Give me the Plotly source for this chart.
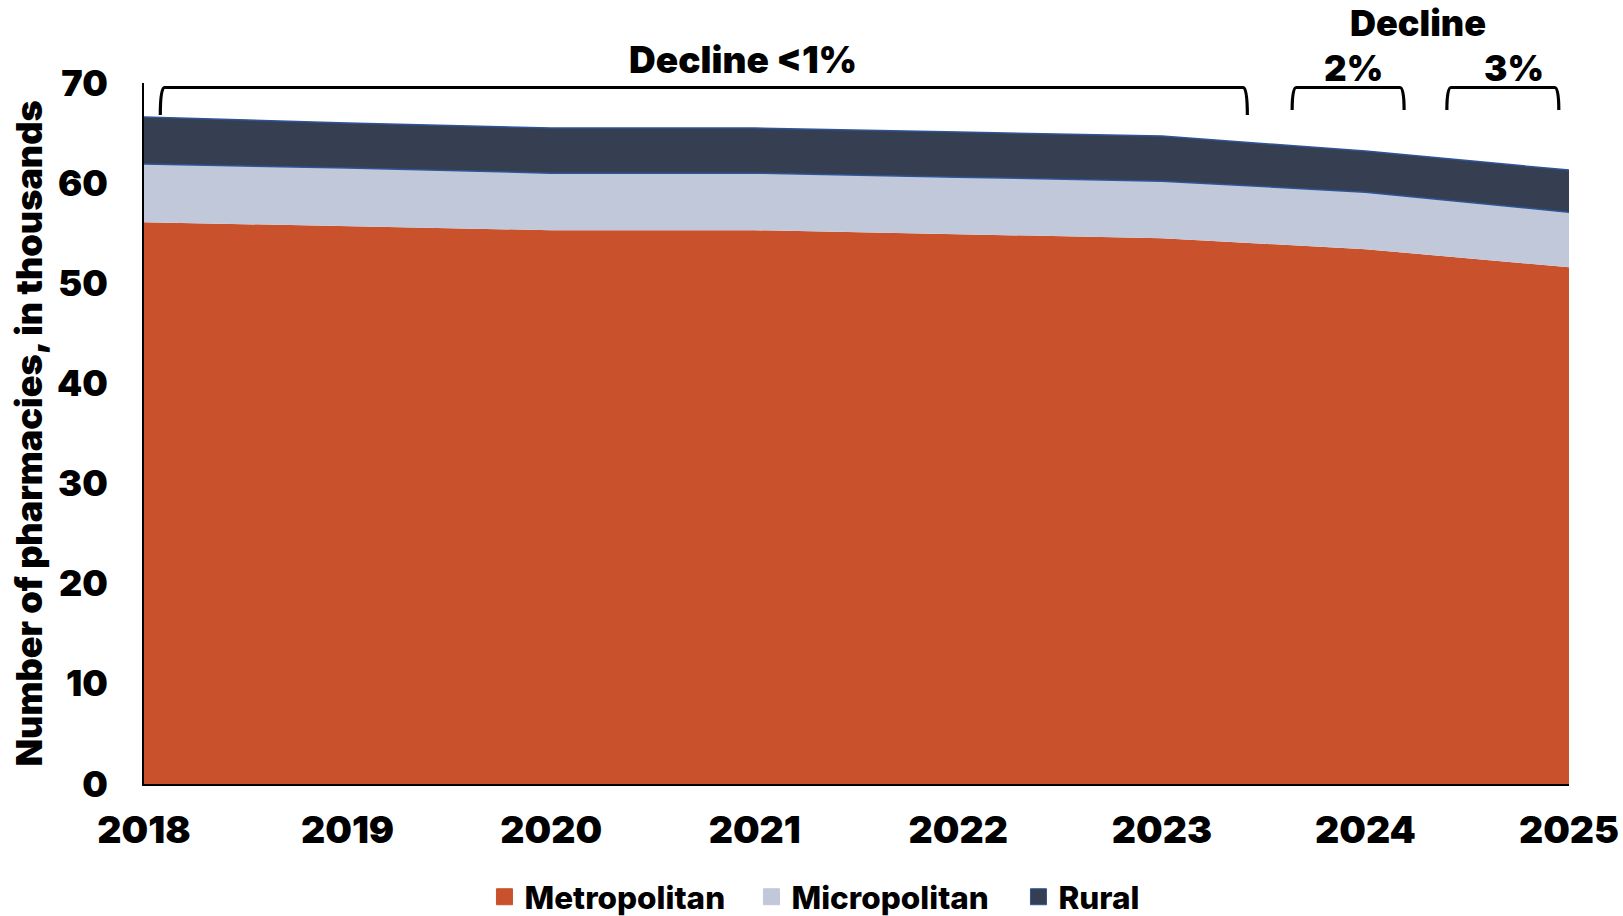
import plotly.graph_objects as go

years = [2018, 2019, 2020, 2021, 2022, 2023, 2024, 2025]
metropolitan = [56.1, 55.7, 55.3, 55.3, 54.9, 54.5, 53.4, 51.6]
micropolitan = [5.8, 5.8, 5.7, 5.7, 5.7, 5.7, 5.7, 5.5]
rural = [4.7, 4.5, 4.5, 4.5, 4.5, 4.5, 4.1, 4.2]

series_names = ["Metropolitan", "Micropolitan", "Rural"]
fill_colors = ["#C9512C", "#C1C8DA", "#353F51"]
line_colors = ["#C9512C", "#2F5597", "#2F5597"]
line_widths = [0, 1.5, 1.5]

y_ticks = [0, 10, 20, 30, 40, 50, 60, 70]

FONT = "Inter, Lato, sans-serif"

fig = go.Figure()
for name, vals, fc, lc, lw in zip(series_names, [metropolitan, micropolitan, rural],
                                  fill_colors, line_colors, line_widths):
    fig.add_trace(go.Scatter(
        x=years, y=vals, name=name, mode="lines", stackgroup="one",
        fillcolor=fc, line=dict(color=lc, width=lw), showlegend=False,
    ))

# legend swatches (square markers, no data)
swatch_lines = ["#C9512C", "#C1C8DA", "#2F5597"]
for name, fc, lc in zip(series_names, fill_colors, swatch_lines):
    fig.add_trace(go.Scatter(
        x=[None], y=[None], name=name, mode="markers",
        marker=dict(symbol="square", size=16, color=fc, line=dict(color=lc, width=1)),
    ))

# brackets (x in data years, y in data units)
brackets = [(2018.08, 2023.42, 66.8), (2023.64, 2024.19, 67.3), (2024.40, 2024.95, 67.3)]
top = 69.55
dx = 0.02
for x0, x1, yb in brackets:
    path = (f"M {x0},{yb} Q {x0},{top} {x0+dx},{top} L {x1-dx},{top} "
            f"Q {x1},{top} {x1},{yb}")
    fig.add_shape(type="path", path=path, xref="x", yref="y",
                  line=dict(color="black", width=3.2))

labels = [("Decline <1%", 2020.94, 1.034, 37), ("Decline", 2024.26, 1.085, 36),
          ("2%", 2023.94, 1.022, 35), ("3%", 2024.73, 1.022, 35)]
for txt, x, y, sz in labels:
    fig.add_annotation(text=txt, x=x, y=y, xref="x", yref="paper",
                       showarrow=False, xanchor="center", yanchor="middle",
                       font=dict(family=FONT, size=sz, color="black", weight=900))

fig.update_layout(
    width=1623, height=916,
    margin=dict(l=144, r=54, t=83, b=132, autoexpand=False),
    paper_bgcolor="white", plot_bgcolor="white",
    showlegend=True,
    legend=dict(orientation="h", xref="container", yref="container",
                x=0.2985, xanchor="left", y=0.021, yanchor="middle",
                traceorder="normal", entrywidth=222,
                font=dict(family=FONT, size=31.5, color="black", weight=800),
                itemwidth=30),
    xaxis=dict(range=[2018, 2025], tickvals=years, ticktext=[str(y) for y in years],
               showgrid=False, showline=True, linecolor="black", linewidth=2,
               ticks="", ticklabelstandoff=12,
               tickfont=dict(family=FONT, size=37.5, color="black", weight=900)),
    yaxis=dict(range=[0, 70], tickvals=y_ticks, showgrid=True, gridcolor="#E6E6E6",
               gridwidth=1, zeroline=False, showline=True, linecolor="black", linewidth=2,
               ticks="", ticklabelstandoff=27,
               tickfont=dict(family=FONT, size=36, color="black", weight=900),
               title=dict(text="Number of pharmacies, in thousands", standoff=3,
                          font=dict(family=FONT, size=36, color="black", weight=900))),
)

fig.write_html("out.html")
